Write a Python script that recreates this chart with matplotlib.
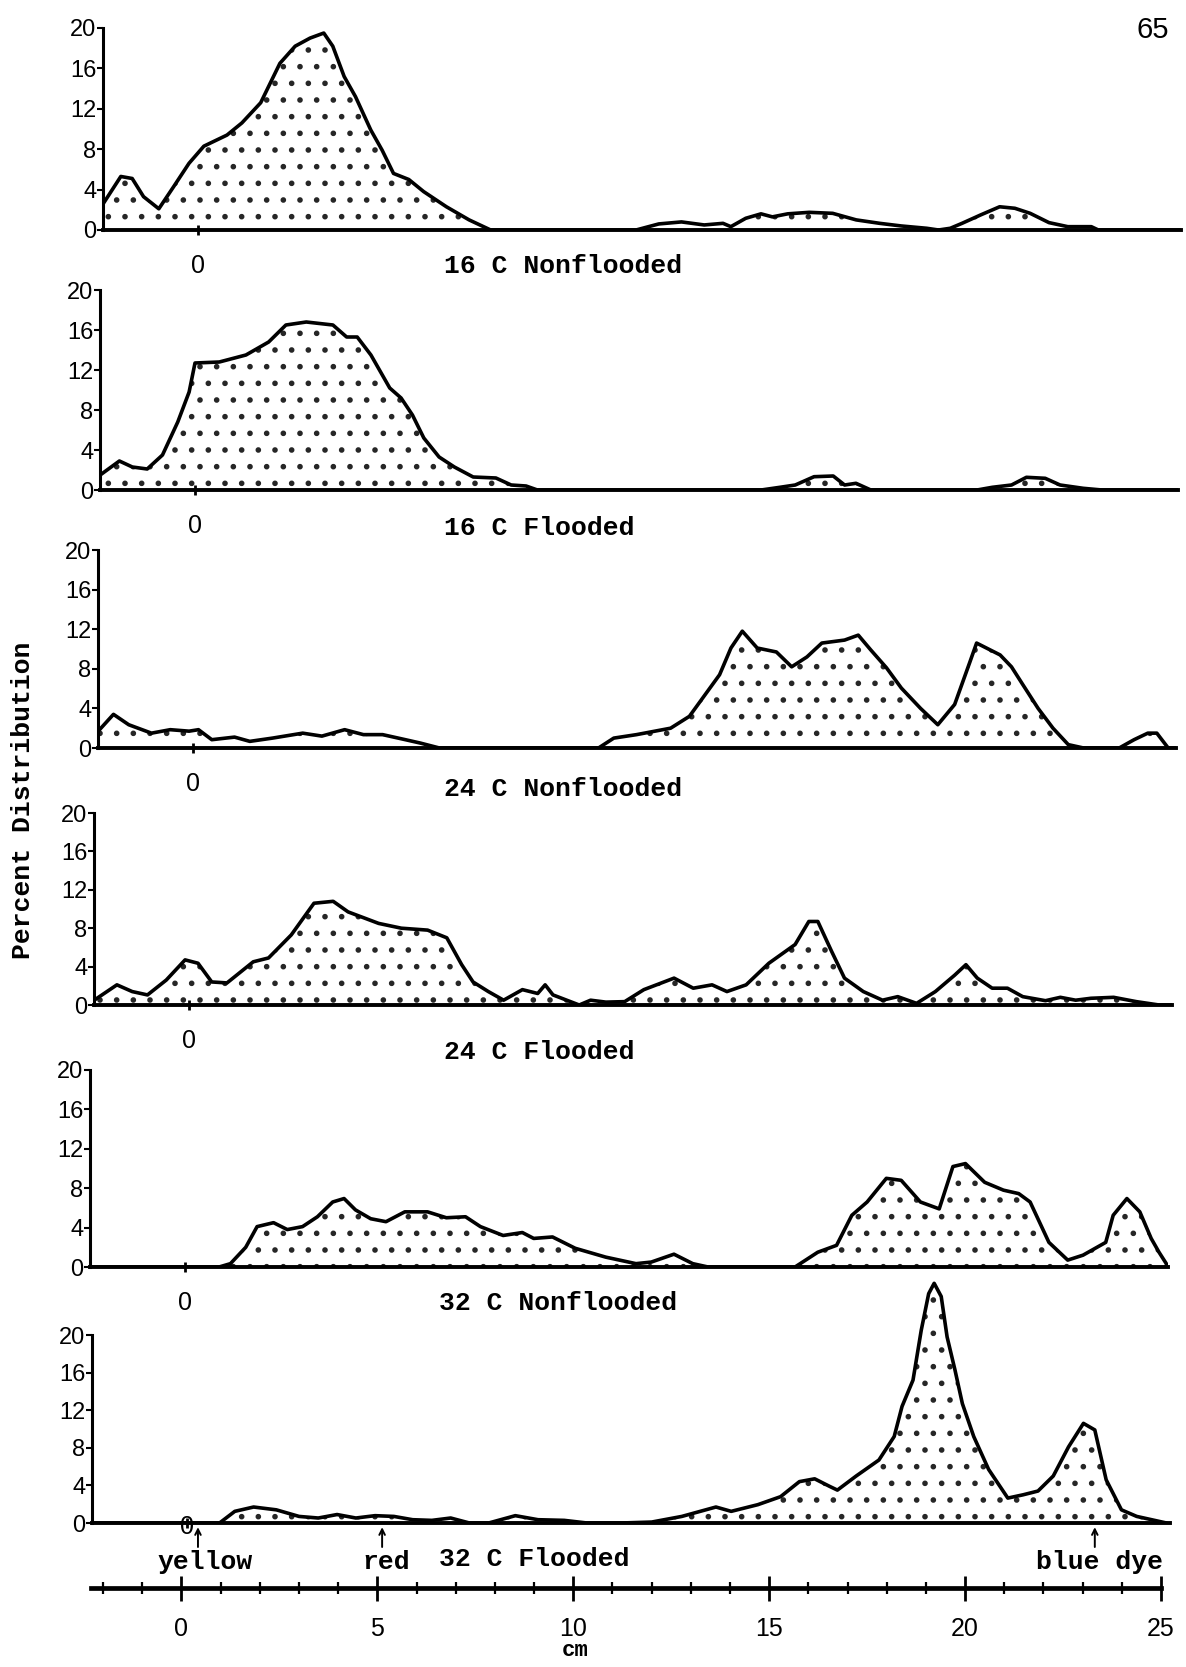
import matplotlib

matplotlib.use("Agg")
import matplotlib.pyplot as plt

# ---- data (cm from origin, percent distribution) ----
x_16c_nonflooded = [-2.42, -1.97, -1.68, -1.39, -1.0, -0.62, -0.23, 0.15, 0.74, 1.12, 1.6, 2.09, 2.48, 2.86,
                    3.21, 3.44, 3.73, 4.02, 4.41, 4.7, 4.99, 5.38, 5.76, 6.34, 6.92, 7.47, 11.18, 11.76, 12.34,
                    12.92, 13.4, 13.6, 13.98, 14.37, 14.66, 15.05, 15.6, 16.2, 16.8, 17.4, 17.95, 18.6, 18.9,
                    19.2, 19.5, 19.98, 20.46, 20.85, 21.24, 21.72, 22.2, 22.8, 22.98, 25.1]
y_16c_nonflooded = [2.6, 5.3, 5.1, 3.3, 2.1, 4.3, 6.6, 8.3, 9.4, 10.6, 12.6, 16.5, 18.2, 19.0,
                    19.5, 18.2, 15.2, 13.2, 9.9, 7.9, 5.6, 5.0, 3.8, 2.3, 1.0, 0.0, 0.0, 0.6, 0.8,
                    0.5, 0.66, 0.33, 1.16, 1.6, 1.3, 1.6, 1.75, 1.65, 1.0, 0.66, 0.4, 0.17, 0.0,
                    0.17, 0.66, 1.5, 2.3, 2.15, 1.65, 0.73, 0.33, 0.33, 0.0, 0.0]

x_16c_flooded = [-2.42, -1.93, -1.6, -1.22, -0.83, -0.44, -0.15, 0.0, 0.62, 1.3, 1.88, 2.32, 2.84, 3.52, 3.87,
                 4.14, 4.49, 4.97, 5.26, 5.55, 5.84, 6.23, 6.62, 7.1, 7.68, 8.07, 8.45, 8.74, 14.45, 14.93,
                 15.32, 15.8, 16.29, 16.58, 16.87, 17.25, 19.96, 20.35, 20.84, 21.22, 21.7, 22.08, 22.67,
                 23.15, 25.1]
y_16c_flooded = [1.5, 2.9, 2.3, 2.1, 3.5, 6.8, 9.8, 12.7, 12.8, 13.5, 14.8, 16.5, 16.8, 16.5, 15.3,
                 15.3, 13.5, 10.2, 9.2, 7.5, 5.2, 3.3, 2.3, 1.3, 1.2, 0.5, 0.4, 0.0, 0.0, 0.27,
                 0.5, 1.33, 1.4, 0.5, 0.67, 0.0, 0.0, 0.27, 0.5, 1.27, 1.17, 0.5, 0.17,
                 0.0, 0.0]

x_24c_nonflooded = [-2.42, -2.03, -1.64, -1.06, -0.58, -0.1, 0.14, 0.48, 1.06, 1.45, 2.03, 2.8, 3.29, 3.87,
                    4.35, 4.84, 5.42, 5.8, 6.29, 10.35, 10.74, 11.32, 12.19, 12.67, 13.44, 13.73, 14.02,
                    14.4, 14.89, 15.28, 15.67, 16.05, 16.63, 16.98, 17.3, 17.7, 18.08, 18.57, 19.01, 19.44,
                    19.83, 20.0, 20.6, 20.89, 21.18, 21.57, 21.95, 22.34, 22.73, 23.64, 24.02, 24.37, 24.6,
                    24.89, 25.1]
y_24c_nonflooded = [1.7, 3.4, 2.35, 1.5, 1.85, 1.7, 1.85, 0.84, 1.1, 0.67, 1.0, 1.5, 1.2, 1.85,
                    1.35, 1.35, 0.84, 0.5, 0.0, 0.0, 1.0, 1.35, 2.0, 3.2, 7.4, 10.1, 11.8,
                    10.1, 9.7, 8.2, 9.2, 10.6, 10.9, 11.4, 9.9, 8.1, 6.05, 4.0, 2.35, 4.4,
                    8.7, 10.6, 9.4, 8.2, 6.4, 4.0, 2.0, 0.34, 0.0, 0.0, 0.84, 1.5, 1.5,
                    0.0, 0.0]

x_24c_flooded = [-2.42, -1.84, -1.45, -1.06, -0.58, -0.1, 0.23, 0.58, 0.97, 1.64, 2.03, 2.61, 3.19, 3.68,
                 4.06, 4.84, 5.42, 6.09, 6.58, 6.96, 7.25, 7.64, 8.03, 8.51, 8.9, 9.09, 9.29, 9.96, 10.25,
                 10.64, 11.12, 11.61, 12.38, 12.87, 13.35, 13.73, 14.22, 14.8, 15.47, 15.82, 16.05, 16.4,
                 16.73, 17.21, 17.7, 18.09, 18.57, 19.05, 19.54, 19.83, 20.12, 20.5, 20.89, 21.28, 21.86,
                 22.24, 22.63, 23.02, 23.6, 24.18, 24.76, 25.1]
y_24c_flooded = [0.5, 2.1, 1.4, 1.05, 2.6, 4.7, 4.35, 2.4, 2.3, 4.5, 4.9, 7.3, 10.6, 10.8,
                 9.7, 8.5, 8.0, 7.8, 7.0, 4.2, 2.4, 1.4, 0.5, 1.6, 1.2, 2.1, 1.05, 0.0, 0.5,
                 0.3, 0.35, 1.6, 2.8, 1.75, 2.1, 1.4, 2.1, 4.35, 6.3, 8.7, 8.7, 5.6,
                 2.8, 1.4, 0.5, 0.87, 0.17, 1.4, 3.1, 4.2, 2.8, 1.75, 1.75, 0.87, 0.45,
                 0.8, 0.5, 0.7, 0.8, 0.35, 0.0, 0.0]

x_32c_nonflooded = [-2.42, 0.87, 1.16, 1.55, 1.84, 2.26, 2.61, 3.0, 3.38, 3.77, 4.06, 4.35, 4.74, 5.13, 5.61,
                    6.19, 6.67, 7.16, 7.54, 8.12, 8.61, 8.9, 9.38, 9.96, 10.74, 11.51, 11.9, 12.48, 12.96,
                    13.35, 15.57, 16.15, 16.63, 17.02, 17.41, 17.9, 18.28, 18.77, 19.25, 19.6, 19.92, 20.41,
                    20.89, 21.28, 21.57, 22.05, 22.53, 22.92, 23.5, 23.69, 24.04, 24.37, 24.66, 24.86,
                    25.1]
y_32c_nonflooded = [0.0, 0.0, 0.34, 2.0, 4.1, 4.5, 3.8, 4.1, 5.1, 6.6, 6.95, 5.8, 4.9, 4.6, 5.6,
                    5.6, 5.0, 5.1, 4.1, 3.2, 3.5, 2.9, 3.05, 1.9, 1.0, 0.34, 0.5, 1.3, 0.34,
                    0.0, 0.0, 1.5, 2.2, 5.25, 6.6, 9.0, 8.8, 6.6, 5.9, 10.2, 10.5, 8.6,
                    7.8, 7.45, 6.6, 2.5, 0.7, 1.2, 2.5, 5.25, 6.95, 5.6, 2.9, 1.5,
                    0.0]

x_32c_flooded = [-2.42, 0.83, 1.22, 1.7, 2.28, 2.86, 3.35, 3.83, 4.31, 4.8, 5.28, 5.76, 6.25, 6.73, 7.21,
                 7.7, 8.38, 8.96, 9.63, 10.21, 11.08, 11.86, 12.63, 13.5, 13.89, 14.57, 15.15, 15.63,
                 16.02, 16.4, 16.6, 17.08, 17.66, 18.05, 18.25, 18.53, 18.74, 18.93, 19.07, 19.25, 19.4,
                 19.6, 19.79, 20.08, 20.46, 20.95, 21.34, 21.72, 22.11, 22.5, 22.88, 23.17, 23.46, 23.85,
                 24.24, 24.62, 25.0]
y_32c_flooded = [0.0, 0.0, 1.24, 1.7, 1.4, 0.7, 0.53, 0.9, 0.53, 0.78, 0.7, 0.35, 0.28, 0.53, 0.0,
                 0.0, 0.78, 0.35, 0.28, 0.0, 0.0, 0.1, 0.7, 1.7, 1.24, 1.95, 2.8, 4.4,
                 4.7, 3.9, 3.5, 5.0, 6.7, 9.2, 12.4, 15.2, 20.5, 24.4, 25.5, 24.1, 19.8,
                 16.3, 12.7, 9.2, 5.7, 2.65, 3.0, 3.4, 5.0, 8.1, 10.6, 9.9, 4.6, 1.4,
                 0.7, 0.35, 0.0]

panel_titles = ["16 C Nonflooded", "16 C Flooded", "24 C Nonflooded", "24 C Flooded",
                "32 C Nonflooded", "32 C Flooded"]
y_ticks = [0, 4, 8, 12, 16, 20]
bottom_ticks = [0, 5, 10, 15, 20, 25]
marker_labels = ["yellow", "red", "blue dye"]
marker_positions = [0.28, 4.98, 23.17]
marker_text_x = [0.45, 5.08, 23.3]

series = [
    (x_16c_nonflooded, y_16c_nonflooded),
    (x_16c_flooded, y_16c_flooded),
    (x_24c_nonflooded, y_24c_nonflooded),
    (x_24c_flooded, y_24c_flooded),
    (x_32c_nonflooded, y_32c_nonflooded),
    (x_32c_flooded, y_32c_flooded),
]

# ---- layout in pixels of the 1186x1667 page ----
W, H = 1186, 1667
PX_PER_CM = 39.18
X_LEFT, X_RIGHT = -2.42, 25.1
# (zero tick x, baseline y, y of the "20" tick) for every strip
strips = [(198, 230, 28), (195, 490, 290), (193, 748, 550),
          (189, 1005, 813), (185, 1267, 1070), (187, 1523, 1335)]
title_xy = [(444, 266), (444, 528), (444, 789), (444, 1052), (439, 1303), (439, 1559)]

MONO = ["Liberation Mono", "DejaVu Sans Mono"]
DIGITS = ["Liberation Sans", "DejaVu Sans"]


def fig_rect(left, top, width, height):
    return [left / W, 1 - (top + height) / H, width / W, height / H]


fig = plt.figure(figsize=(W / 100, H / 100), dpi=100)
plt.rcParams["hatch.linewidth"] = 1.6

for i, ((xs, ys), (zero_x, base_y, top_y)) in enumerate(zip(series, strips)):
    ymax = 26.5 if i == 5 else 20
    unit = (base_y - top_y) / 20
    left = zero_x + X_LEFT * PX_PER_CM
    width = (X_RIGHT - X_LEFT) * PX_PER_CM
    height = ymax * unit
    ax = fig.add_axes(fig_rect(left, base_y - height, width, height))
    ax.patch.set_alpha(0)
    ax.set_xlim(X_LEFT, X_RIGHT)
    ax.set_ylim(0, ymax)

    ax.fill_between(xs, ys, 0, facecolor="white", edgecolor="0.15", hatch=".", linewidth=0)
    ax.plot(xs, ys, color="black", lw=2.6, solid_joinstyle="round", solid_capstyle="round")

    for side in ("top", "right"):
        ax.spines[side].set_visible(False)
    ax.spines["left"].set_linewidth(2.2)
    ax.spines["left"].set_bounds(0, 20)
    ax.spines["bottom"].set_linewidth(2.8)

    ax.set_yticks(y_ticks)
    ax.set_yticklabels([str(t) for t in y_ticks], family=DIGITS, fontsize=17)
    ax.tick_params(axis="y", length=4, width=1.5, pad=1, direction="out")
    ax.set_xticks([0])
    ax.set_xticklabels([])
    ax.tick_params(axis="x", length=7, width=2, direction="inout")

    if i < 5:
        ax.annotate("0", xy=(0, 0), xytext=(0, -36), xycoords="data", textcoords="offset pixels",
                    ha="center", va="center", family=DIGITS, fontsize=18)
    else:
        ax.annotate("0", xy=(0, 0), xytext=(0, -4), xycoords="data", textcoords="offset pixels",
                    ha="center", va="center", family=DIGITS, fontsize=18)
        for pos in marker_positions:
            ax.annotate("", xy=(pos, 0), xytext=(0, -24), xycoords="data", textcoords="offset pixels",
                        arrowprops=dict(arrowstyle="->", lw=1.4, color="black", shrinkA=0, shrinkB=3))
        for label, tx in zip(marker_labels, marker_text_x):
            ax.text(tx, -39 / unit, label, ha="center", va="center",
                    family=MONO, fontweight="bold", fontsize=19, clip_on=False)

    tx, ty = title_xy[i]
    fig.text(tx / W, 1 - ty / H, panel_titles[i], ha="left", va="center",
             family=MONO, fontweight="bold", fontsize=19)

# ---- common cm scale at the bottom ----
zero_b, axis_y = 181.5, 1588
ax_b = fig.add_axes(fig_rect(zero_b + X_LEFT * PX_PER_CM, axis_y - 10, (X_RIGHT - X_LEFT) * PX_PER_CM, 10))
ax_b.patch.set_alpha(0)
ax_b.set_xlim(X_LEFT, X_RIGHT)
ax_b.set_yticks([])
for side in ("top", "right", "left"):
    ax_b.spines[side].set_visible(False)
ax_b.spines["bottom"].set_linewidth(3.4)
ax_b.spines["bottom"].set_bounds(-2.3, 25)
ax_b.set_xticks(bottom_ticks)
ax_b.set_xticklabels([str(t) for t in bottom_ticks], family=DIGITS, fontsize=18)
ax_b.set_xticks(range(-2, 25), minor=True)
ax_b.tick_params(axis="x", which="major", length=18, width=2, direction="inout", pad=12)
ax_b.tick_params(axis="x", which="minor", length=9, width=1.6, direction="inout")

fig.text(575 / W, 1 - 1650 / H, "cm", ha="center", va="center",
         family=MONO, fontweight="bold", fontsize=16)
fig.text(23 / W, 1 - 800 / H, "Percent Distribution", rotation=90, ha="center", va="center",
         family=MONO, fontweight="bold", fontsize=19)
fig.text(1153 / W, 1 - 30 / H, "65", ha="center", va="center", family=DIGITS, fontsize=21)

fig.savefig("out.png", dpi=100, facecolor="white")
